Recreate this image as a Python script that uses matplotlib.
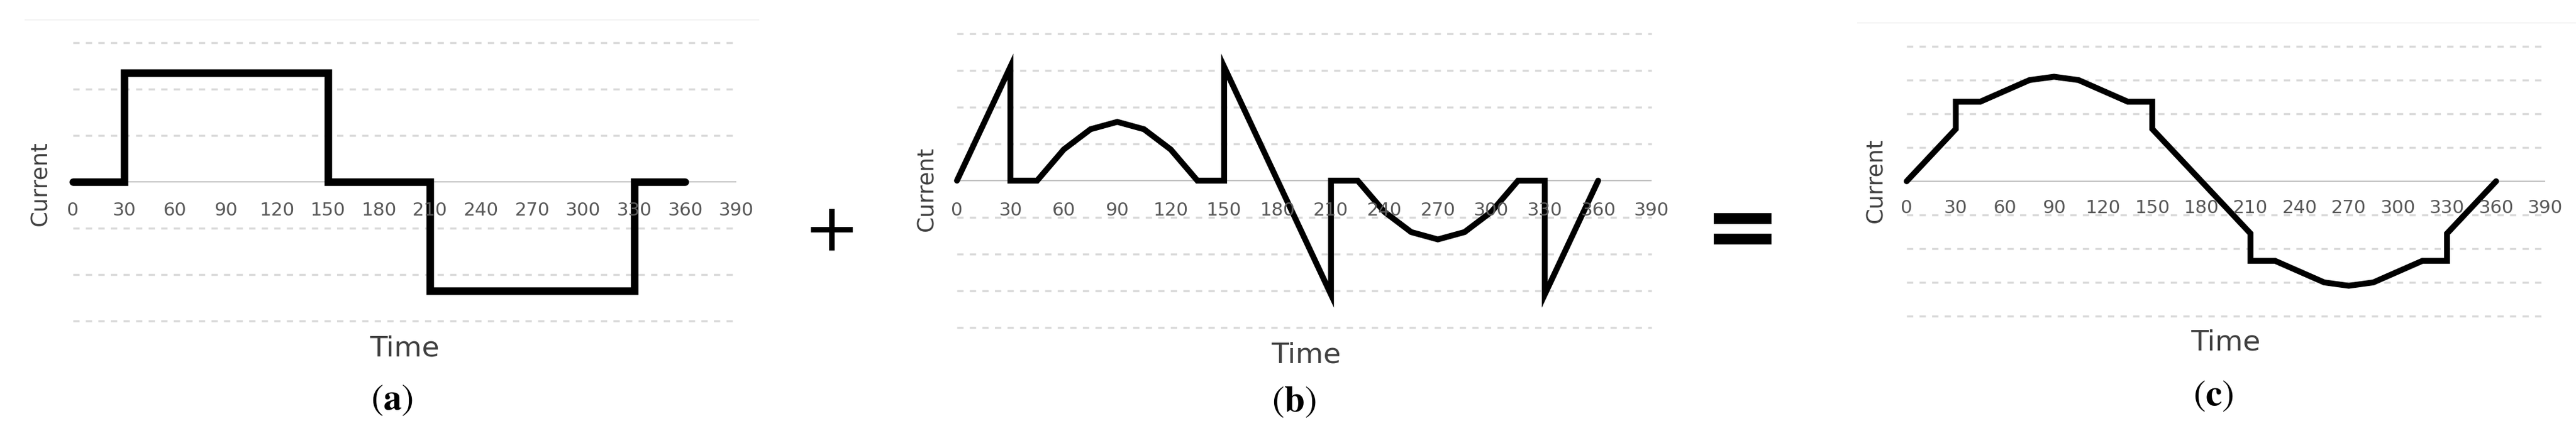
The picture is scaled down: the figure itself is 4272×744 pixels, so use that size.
import numpy as np
import matplotlib.pyplot as plt

W, H = 4272, 744

# tick labels shared by all three panels
ticks = [0, 30, 60, 90, 120, 150, 180, 210, 240, 270, 300, 330, 360, 390]

# (a) quasi-square current
a_x = [0, 30, 30, 150, 150, 210, 210, 330, 330, 360]
a_y = [0, 0, 2.35, 2.35, 0, 0, -2.35, -2.35, 0, 0]

# (b) harmonic current
b_x = [0, 30, 30, 45, 60, 75, 90, 105, 120, 135, 150, 150, 210, 210, 225,
       240, 255, 270, 285, 300, 315, 330, 330, 360]
b_y = [0, 3.1, 0, 0, 0.85, 1.4, 1.6, 1.4, 0.85, 0, 0, 3.1, -3.1, 0, 0,
       -0.85, -1.4, -1.6, -1.4, -0.85, 0, 0, -3.1, 0]

# (c) resulting sinusoid
c_x = [0, 30, 30, 45, 60, 75, 90, 105, 120, 135, 150, 150, 210, 210, 225,
       240, 255, 270, 285, 300, 315, 330, 330, 360]
c_y = [0, 1.55, 2.36, 2.36, 2.68, 3.0, 3.1, 3.0, 2.68, 2.36, 2.36, 1.55,
       -1.55, -2.36, -2.36, -2.68, -3.0, -3.1, -3.0, -2.68, -2.36, -2.36,
       -1.55, 0]

fig = plt.figure(figsize=(W / 100, H / 100), dpi=100)
fig.patch.set_facecolor('white')
narrow = ['Liberation Sans Narrow', 'DejaVu Sans']
plt.rcParams['mathtext.fontset'] = 'stix'


def panel(xs, ys, px0, px390, py0, dy, n, lw, tick_dy):
    k = (px390 - px0) / 390
    left = px0 - 15 * k
    right = px390 + 15 * k
    top = py0 - (n + 0.6) * dy
    bottom = py0 + (n + 0.6) * dy
    ax = fig.add_axes([left / W, 1 - bottom / H, (right - left) / W, (bottom - top) / H])
    ax.set_xlim(-15, 405)
    ax.set_ylim(-n - 0.6, n + 0.6)
    ax.axis('off')
    for g in range(1, n + 1):
        for v in (g, -g):
            ax.hlines(v, 0, 390, colors='#d9d9d9', lw=2.5, linestyles=(0, (3, 3)))
    ax.hlines(0, 0, 390, colors='#bfbfbf', lw=1.5)
    for t in ticks:
        ax.text(t, -tick_dy / dy, str(t), ha='center', va='center',
                fontsize=22, color='#595959', family=narrow)
    ax.plot(xs, ys, color='black', lw=lw, solid_joinstyle='miter', solid_capstyle='round')
    return ax


panel(a_x, a_y, 121, 1221, 302, 77, 3, 9, 48)
panel(b_x, b_y, 1587, 2739, 300, 61, 4, 7, 50)
panel(c_x, c_y, 3162, 4221, 301, 56, 4, 7, 44)

# faint top lines
fig.add_artist(plt.Line2D([42 / W, 1258 / W], [1 - 33 / H] * 2, color='#f2f2f2', lw=1.5))
fig.add_artist(plt.Line2D([3081 / W, 1.0], [1 - 38 / H] * 2, color='#f2f2f2', lw=1.5))


def ftext(x, y, s, **kw):
    fig.text(x / W, 1 - y / H, s, ha='center', va='center', **kw)


for cx, cy in [(67, 305), (1537, 314), (3111, 300)]:
    ftext(cx, cy, 'Current', rotation=90, fontsize=27, color='#404040', family='DejaVu Sans')
for tx, ty in [(671, 579), (2166, 590), (3691, 569)]:
    ftext(tx, ty, 'Time', fontsize=34, color='#404040', family=narrow)
for lx, ly, s in [(650, 664, 'a'), (2146, 667, 'b'), (3670, 657, 'c')]:
    ftext(lx, ly, r'$(\mathbf{%s})$' % s, fontsize=44, color='black')

ftext(1379, 386, '+', fontsize=80, color='black', family='DejaVu Sans')
ftext(2890, 385, '=', fontsize=110, color='black', family='DejaVu Sans', fontweight='bold')

fig.savefig('out.png', dpi=100)
